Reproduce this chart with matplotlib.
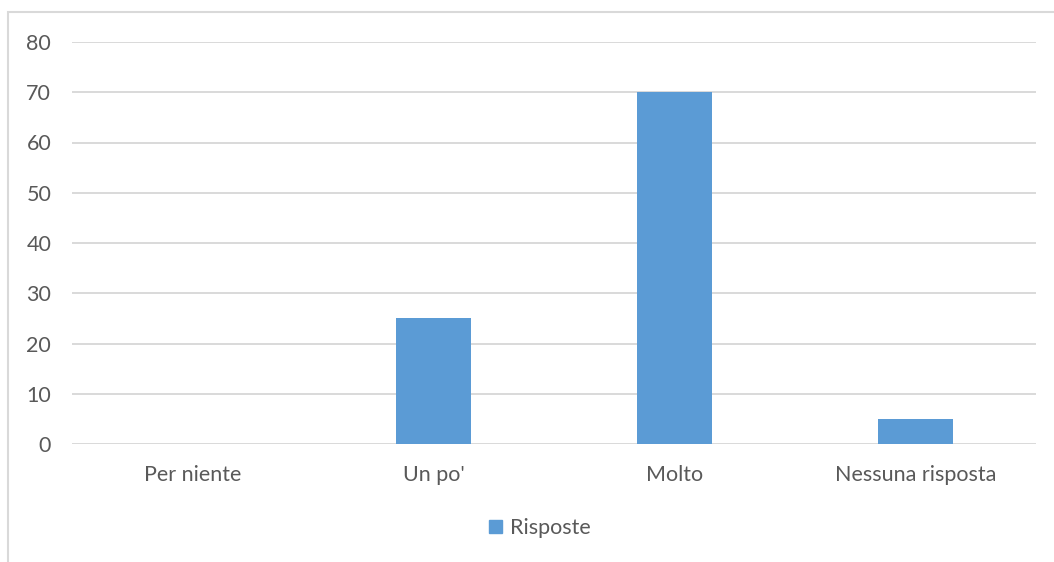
import matplotlib
matplotlib.use('Agg')
import matplotlib.pyplot as plt
from matplotlib.patches import Rectangle, Patch

categorie = ['Per niente', "Un po'", 'Molto', 'Nessuna risposta']
risposte = [0, 25, 70, 5]
yticks = [0, 10, 20, 30, 40, 50, 60, 70, 80]

plt.rcParams['font.family'] = ['Lato', 'DejaVu Sans']

fig = plt.figure(figsize=(10.54, 5.62), dpi=100)
ax = fig.add_axes([72 / 1054, 1 - 444 / 562, (1036 - 72) / 1054, (444 - 42) / 562])

x = range(len(categorie))
ax.bar(x, risposte, width=0.31, color='#5b9bd5', zorder=3, label='Risposte')

ax.set_xlim(-0.5, len(categorie) - 0.5)
ax.set_ylim(0, 80)
ax.set_yticks(yticks)
ax.set_xticks(list(x))
ax.set_xticklabels(categorie)
ax.yaxis.grid(True, color='#d9d9d9', linewidth=1.4, zorder=0)
for s in ax.spines.values():
    s.set_visible(False)
ax.tick_params(axis='both', length=0, labelsize=15.5, labelcolor='#595959')
ax.tick_params(axis='y', pad=15)
ax.tick_params(axis='x', pad=15)

leg = fig.legend(handles=[Patch(color='#5b9bd5', label='Risposte')],
                 loc='center', bbox_to_anchor=(540 / 1054, 1 - 528 / 562),
                 frameon=False, fontsize=15.5, handlelength=0.6, handleheight=0.6,
                 handletextpad=0.35)
for t in leg.get_texts():
    t.set_color('#595959')

# bordo del grafico
fig.patches.append(Rectangle((8 / 1054, -0.1), 1.2, 1 - 12 / 562 + 0.1,
                             transform=fig.transFigure, fill=False,
                             edgecolor='#d9d9d9', linewidth=1.5))

fig.savefig('out.png', dpi=100)
